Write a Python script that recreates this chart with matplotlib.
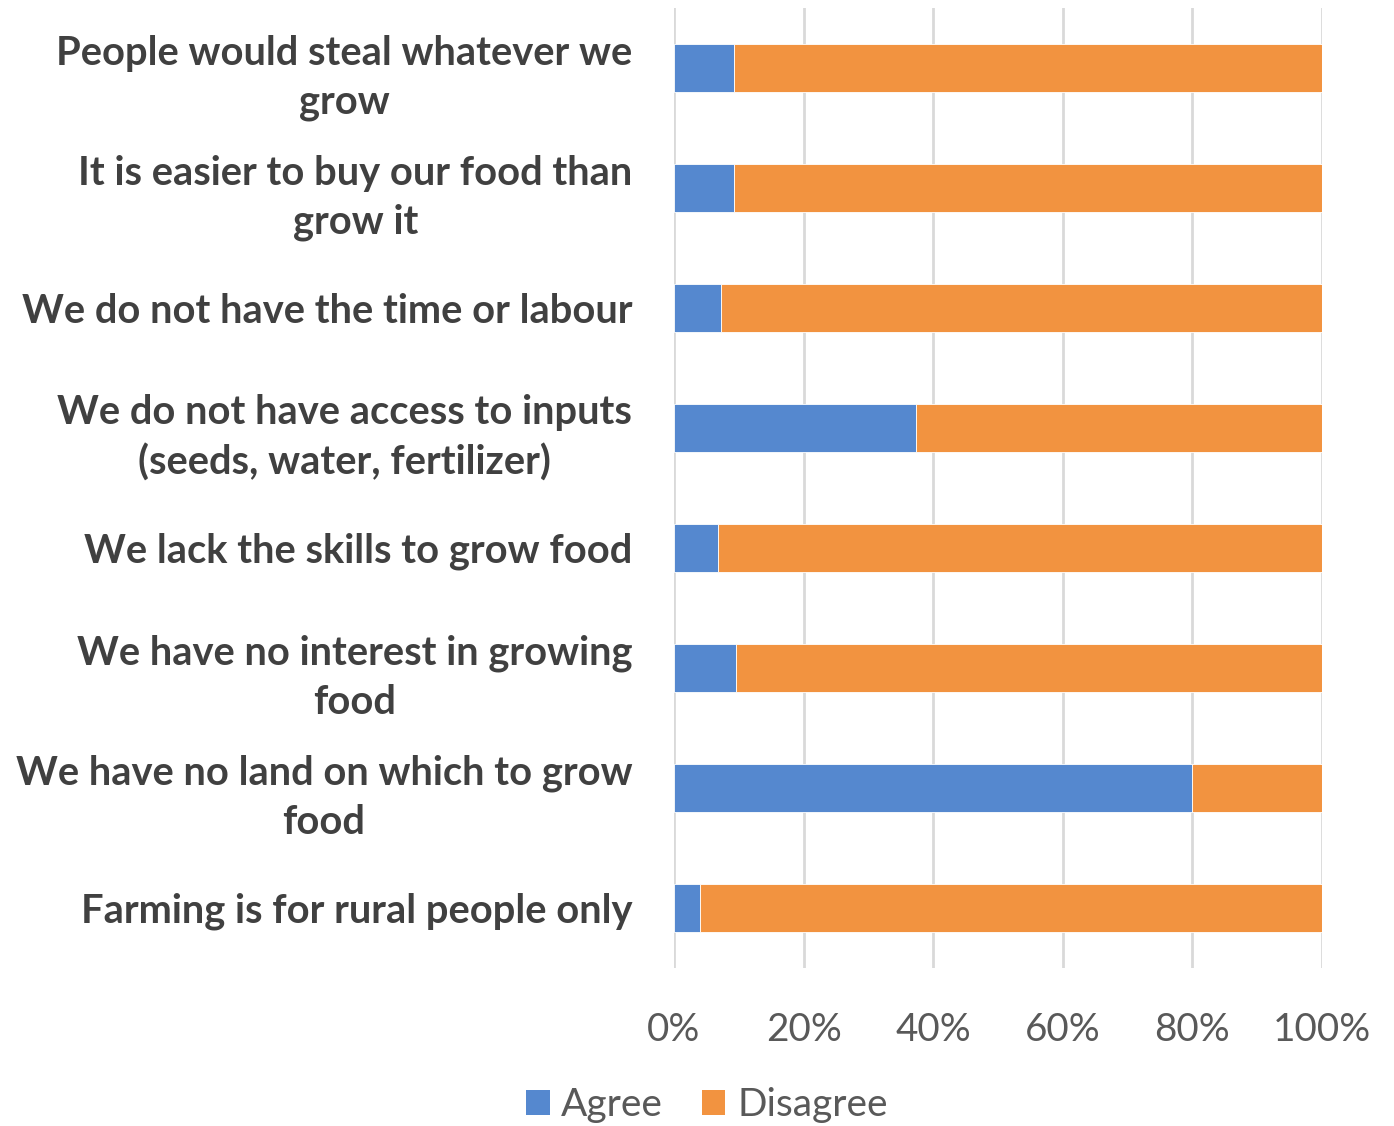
import matplotlib
matplotlib.use("Agg")
import matplotlib.pyplot as plt
from matplotlib.patches import Patch

categories = [
    "People would steal whatever we\ngrow",
    "It is easier to buy our food than\ngrow it",
    "We do not have the time or labour",
    "We do not have access to inputs\n(seeds, water, fertilizer)",
    "We lack the skills to grow food",
    "We have no interest in growing\nfood",
    "We have no land on which to grow\nfood",
    "Farming is for rural people only",
]
agree = [9.3, 9.3, 7.3, 37.4, 6.8, 9.5, 79.9, 4.0]
disagree = [100 - a for a in agree]
tick_values = [0, 20, 40, 60, 80, 100]
tick_labels = ["0%", "20%", "40%", "60%", "80%", "100%"]

blue = "#5588CF"
orange = "#F29340"
grid_gray = "#D9D9D9"
label_color = "#404040"
tick_color = "#595959"

fig = plt.figure(figsize=(13.94, 11.26), dpi=100)
ax = fig.add_axes([674 / 1394, 158 / 1126, 648 / 1394, 960 / 1126])

y = list(range(len(categories)))
ax.barh(y, agree, height=0.4, color=blue, edgecolor="white", linewidth=0.6, zorder=3)
ax.barh(y, disagree, left=agree, height=0.4, color=orange, edgecolor="white",
        linewidth=0.6, zorder=3)

ax.set_xlim(0, 100)
ax.set_ylim(len(categories) - 0.5, -0.5)
ax.set_xticks(tick_values)
ax.set_xticklabels(tick_labels, fontfamily="Lato", fontsize=27.8, color=tick_color)
ax.set_yticks(y)
ax.set_yticklabels(categories, fontfamily="Lato", fontweight="bold", fontsize=28.7,
                   color=label_color, multialignment="center", linespacing=1.4)
ax.tick_params(axis="y", length=0, pad=30)
ax.tick_params(axis="x", length=0, pad=32)
for s in ax.spines.values():
    s.set_visible(False)
ax.grid(axis="x", color=grid_gray, linewidth=2, zorder=0)
ax.set_axisbelow(True)

handles = [Patch(facecolor=blue, label="Agree"), Patch(facecolor=orange, label="Disagree")]
leg = fig.legend(handles=handles, loc="center", bbox_to_anchor=(707 / 1394, 1 - 1105 / 1126),
                 ncol=2, frameon=False, prop={"family": "Lato", "size": 28},
                 handlelength=0.6, handleheight=0.6, handletextpad=0.3, columnspacing=1.0)
for t in leg.get_texts():
    t.set_color(tick_color)

fig.savefig("out.png", dpi=100)
